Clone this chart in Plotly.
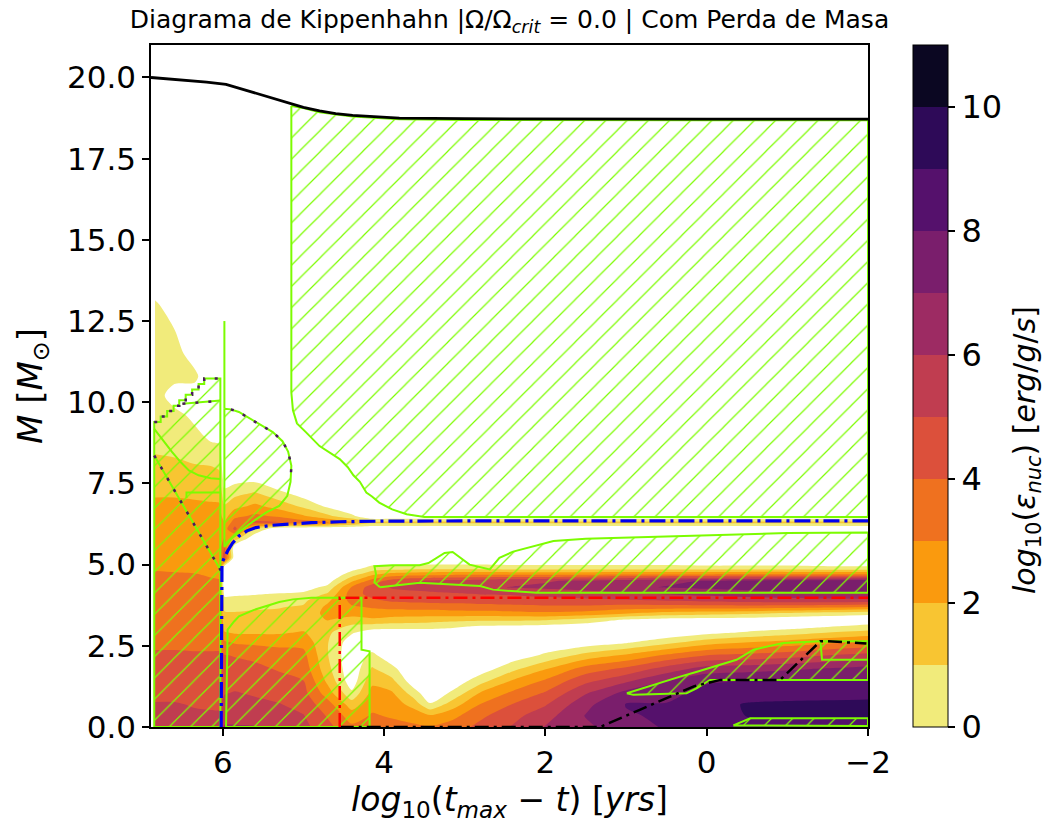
import numpy as np
import plotly.graph_objects as go

# ---------------------------------------------------------------------------
# Grid of the nuclear energy generation rate, log10(eps_nuc) [erg/g/s]
# time coordinate: log10(t_max - t) [yr]; mass coordinate: m [Msun]
# values below 0 mean eps_nuc < 1 erg/g/s (left blank)
# ---------------------------------------------------------------------------
log_t = [6.84, 6.6, 6.35, 6.15, 6.04, 5.98, 5.85, 5.6, 5.3, 5.0, 4.7, 4.4, 4.15,
         3.9, 3.65, 3.43, 3.15, 2.8, 2.4, 2.0, 1.5, 1.0, 0.5, 0.0, -0.5, -1.0, -1.5, -2.0]

mass = [0.0, 0.35, 0.7, 1.05, 1.4, 1.8, 2.2, 2.6, 2.9, 3.1, 3.3, 3.5, 3.7, 3.9, 4.1,
        4.3, 4.5, 4.7, 4.9, 5.2, 5.5, 5.8, 6.1, 6.3, 6.5, 6.8, 7.2, 7.6, 8.0, 8.5,
        9.0, 9.6, 10.2, 10.8, 11.5, 12.2, 13.0, 13.6]

# one profile (bottom -> top, on the `mass` rows) per entry of `log_t`
eps_columns = [
    # 6.84
    [5.5, 5.2, 5.05, 4.8, 4.6, 4.4, 4.15, 3.8, 3.65, 3.6, 3.5, 3.45, 3.4, 3.35, 3.3,
     3.2, 3.15, 3.05, 2.95, 2.75, 2.65, 2.55, 2.5, 2.45, 2.4, 2.2, 1.9, 1.6, 1.4, 0.9,
     0.6, 0.6, 0.6, 0.6, 0.6, 0.6, 0.3, -1],
    # 6.6
    [5.4, 5.15, 5.05, 4.8, 4.6, 4.4, 4.15, 3.8, 3.65, 3.6, 3.5, 3.45, 3.4, 3.3, 3.25,
     3.2, 3.1, 3.05, 2.9, 2.75, 2.65, 2.55, 2.5, 2.45, 2.4, 2.2, 1.9, 1.6, 1.3, 0.8,
     0.5, 0.4, -0.6, 0.4, 0.5, 0.05, -1, -1],
    # 6.35
    [5.3, 5.1, 4.95, 4.75, 4.55, 4.35, 4.1, 3.8, 3.65, 3.55, 3.5, 3.4, 3.35, 3.25, 3.2,
     3.15, 3.1, 3.02, 2.9, 2.7, 2.6, 2.55, 2.5, 2.45, 2.35, 2.15, 1.85, 1.5, 1.1, 0.6,
     0.3, -0.3, -0.6, 0.3, -0.6, -1, -1, -1],
    # 6.15
    [5.3, 5.1, 4.9, 4.7, 4.5, 4.3, 4.1, 3.8, 3.6, 3.5, 3.45, 3.35, 3.3, 3.2, 3.15,
     3.1, 3.05, 2.95, 2.85, 2.65, 2.6, 2.5, 2.45, 2.4, 2.3, 2.1, 1.8, 1.4, 1.05, 0.4,
     -0.3, -0.6, -1, -1, -1, -1, -1, -1],
    # 6.04
    [5.4, 5.1, 4.9, 4.7, 4.5, 4.3, 4.1, 3.8, 3.6, 3.5, 3.4, 3.35, 3.3, 3.2, 3.1,
     3.05, 3.02, 2.9, 2.8, 2.65, 2.6, 2.5, 2.45, 2.4, 2.3, 2.1, 1.7, 1.3, 0.9, 0.3,
     -0.4, -0.7, -1, -1, -1, -1, -1, -1],
    # 5.98
    [6.1, 5.6, 5.25, 4.95, 4.65, 4.3, 4.05, 3.2, 2.1, 1.6, 1.3, 1.1, 0.8, 0.4, -0.3,
     -0.8, -1, -1, -1, 4.5, 4.1, 3.1, 2.5, 2.1, 1.6, 1.1, 0.3, -0.5, -1, -1,
     -1, -1, -1, -1, -1, -1, -1, -1],
    # 5.85
    [6.1, 5.6, 5.3, 5.05, 4.7, 4.35, 3.95, 2.9, 1.9, 1.5, 1.25, 1.05, 0.8, 0.4, -0.2,
     -0.8, -1, -1, -1, -1, -1, 1.5, 4.3, 3.5, 2.7, 1.7, 0.7, -0.3, -1, -1,
     -1, -1, -1, -1, -1, -1, -1, -1],
    # 5.6
    [6.05, 5.6, 5.2, 4.9, 4.6, 4.2, 3.8, 2.8, 1.9, 1.5, 1.25, 1.1, 0.9, 0.5, -0.1,
     -0.7, -1, -1, -1, -1, -1, -1, 1.0, 4.2, 3.2, 2.2, 1.1, -0.2, -1, -1,
     -1, -1, -1, -1, -1, -1, -1, -1],
    # 5.3
    [5.8, 5.4, 5.05, 4.6, 4.3, 3.9, 3.5, 2.7, 1.9, 1.5, 1.3, 1.15, 0.95, 0.6, 0.05,
     -0.6, -1, -1, -1, -1, -1, -1, -1, 4.05, 2.8, 1.6, 0.3, -1, -1, -1,
     -1, -1, -1, -1, -1, -1, -1, -1],
    # 5.0
    [5.3, 5.05, 4.6, 4.3, 4.05, 3.6, 3.3, 2.7, 2.1, 1.7, 1.5, 1.35, 1.1, 0.8, 0.2,
     -0.5, -1, -1, -1, -1, -1, -1, -1, 3.5, 2.1, 0.8, -0.5, -1, -1, -1,
     -1, -1, -1, -1, -1, -1, -1, -1],
    # 4.7
    [4.3, 3.9, 3.4, 2.5, 1.8, 1.3, 1.05, 1.05, 1.2, 1.6, 2.05, 2.3, 2.2, 1.8, 1.1,
     0.3, -0.5, -1, -1, -1, -1, -1, -1, 3.1, 1.2, -0.2, -1, -1, -1, -1,
     -1, -1, -1, -1, -1, -1, -1, -1],
    # 4.4
    [3.2, 2.5, 1.5, 0.2, -0.6, -0.8, -0.8, -0.6, 0.1, 0.8, 1.6, 2.4, 2.9, 3.3, 3.5,
     3.1, 1.8, 0.5, -0.5, -1, -1, -1, -1, 2.2, 0.2, -1, -1, -1, -1, -1,
     -1, -1, -1, -1, -1, -1, -1, -1],
    # 4.15
    [3.5, 3.1, 2.7, 2.3, 1.8, 1.1, 0.3, -0.8, -0.6, 0.6, 1.8, 2.6, 3.1, 3.8, 4.4,
     4.5, 3.4, 1.8, 0.3, -1, -1, -1, -1, 1.3, -1, -1, -1, -1, -1, -1,
     -1, -1, -1, -1, -1, -1, -1, -1],
    # 3.9
    [3.3, 2.9, 2.5, 2.1, 1.3, 0.3, -0.8, -1, -0.7, 0.5, 1.6, 2.5, 3.3, 4.2, 4.6,
     5.1, 4.4, 2.4, 0.4, -1, -1, -1, -1, 1.3, -1, -1, -1, -1, -1, -1,
     -1, -1, -1, -1, -1, -1, -1, -1],
    # 3.65
    [3.2, 2.6, 1.7, 0.6, -0.5, -1, -1, -1, -0.7, 0.5, 1.5, 2.5, 3.4, 4.3, 4.7,
     5.3, 4.9, 2.6, 0.5, -1, -1, -1, -1, 1.3, -1, -1, -1, -1, -1, -1,
     -1, -1, -1, -1, -1, -1, -1, -1],
    # 3.43
    [3.1, 2.1, 0.1, -0.8, -1, -1, -1, -1, -0.6, 0.4, 1.4, 2.5, 3.4, 4.4, 4.8,
     5.4, 5.1, 2.7, 0.5, -1, -1, -1, -1, 1.3, -1, -1, -1, -1, -1, -1,
     -1, -1, -1, -1, -1, -1, -1, -1],
    # 3.15
    [3.5, 2.7, 1.5, 0.2, -0.7, -1, -1, -1, -0.6, 0.2, 1.3, 2.6, 3.5, 4.4, 4.9,
     5.6, 5.3, 2.8, 0.5, -1, -1, -1, -1, 1.3, -1, -1, -1, -1, -1, -1,
     -1, -1, -1, -1, -1, -1, -1, -1],
    # 2.8
    [4.3, 3.8, 3.05, 2.1, 0.7, -0.6, -1, -1, -0.7, -0.1, 1.2, 2.6, 3.6, 4.5, 5.05,
     5.8, 5.5, 2.8, 0.5, -1, -1, -1, -1, 1.3, -1, -1, -1, -1, -1, -1,
     -1, -1, -1, -1, -1, -1, -1, -1],
    # 2.4
    [5.1, 4.7, 4.05, 3.2, 2.2, 0.7, -0.6, -1, -0.8, -0.2, 1.2, 2.7, 3.7, 4.6, 5.1,
     6.05, 5.7, 2.8, 0.4, -1, -1, -1, -1, 1.3, -1, -1, -1, -1, -1, -1,
     -1, -1, -1, -1, -1, -1, -1, -1],
    # 2.0
    [6.05, 5.6, 4.9, 4.1, 3.2, 1.9, 0.2, -0.8, -1, -0.3, 1.1, 2.8, 3.8, 4.7, 5.3,
     6.2, 5.9, 2.8, 0.4, -1, -1, -1, -1, 1.3, -1, -1, -1, -1, -1, -1,
     -1, -1, -1, -1, -1, -1, -1, -1],
    # 1.5
    [6.8, 7.05, 6.7, 5.9, 4.8, 3.4, 1.4, -0.6, -1, -0.5, 0.6, 2.6, 3.8, 4.8, 5.5,
     6.5, 6.2, 2.8, 0.4, -1, -1, -1, -1, 1.3, -1, -1, -1, -1, -1, -1,
     -1, -1, -1, -1, -1, -1, -1, -1],
    # 1.0
    [7.6, 7.9, 8.05, 7.3, 5.9, 4.2, 2.2, -0.1, -1, -0.8, -0.1, 2.05, 3.6, 4.9, 5.8,
     6.8, 6.5, 2.9, 0.4, -1, -1, -1, -1, 1.3, -1, -1, -1, -1, -1, -1,
     -1, -1, -1, -1, -1, -1, -1, -1],
    # 0.5
    [8.1, 8.15, 8.05, 7.7, 7.05, 5.4, 3.2, 0.7, -0.8, -1, -0.4, 1.6, 3.6, 5.1, 6.1,
     7.05, 6.8, 2.9, 0.4, -1, -1, -1, -1, 1.3, -1, -1, -1, -1, -1, -1,
     -1, -1, -1, -1, -1, -1, -1, -1],
    # 0.0
    [8.2, 8.4, 8.5, 8.3, 7.9, 6.4, 4.05, 1.6, -0.3, -1, -0.5, 1.4, 3.6, 5.3, 6.3,
     7.2, 7.05, 2.9, 0.3, -1, -1, -1, -1, 1.3, -1, -1, -1, -1, -1, -1,
     -1, -1, -1, -1, -1, -1, -1, -1],
    # -0.5
    [8.4, 9.05, 9.1, 8.4, 8.05, 6.6, 4.3, 2.05, 0.2, -0.9, -0.6, 1.2, 3.6, 5.5, 6.5,
     7.4, 7.2, 3.05, 0.3, -1, -1, -1, -1, 1.3, -1, -1, -1, -1, -1, -1,
     -1, -1, -1, -1, -1, -1, -1, -1],
    # -1.0
    [8.5, 9.15, 9.2, 8.5, 8.1, 6.8, 4.6, 2.4, 0.6, -0.5, -0.7, 0.9, 3.5, 5.6, 6.7,
     7.6, 7.4, 3.05, 0.3, -1, -1, -1, -1, 1.3, -1, -1, -1, -1, -1, -1,
     -1, -1, -1, -1, -1, -1, -1, -1],
    # -1.5
    [8.55, 9.2, 9.25, 8.55, 8.15, 7.05, 5.05, 2.8, 1.05, -0.1, -0.8, 0.6, 3.3, 5.7, 6.8,
     7.7, 7.5, 3.05, 0.2, -1, -1, -1, -1, 1.3, -1, -1, -1, -1, -1, -1,
     -1, -1, -1, -1, -1, -1, -1, -1],
    # -2.0
    [8.6, 9.2, 9.3, 8.6, 8.2, 7.3, 5.4, 3.2, 1.4, 0.3, -0.8, 0.3, 3.05, 5.7, 6.9,
     7.8, 7.6, 3.05, 0.2, -1, -1, -1, -1, 1.3, -1, -1, -1, -1, -1, -1,
     -1, -1, -1, -1, -1, -1, -1, -1],
]
assert len(eps_columns) == len(log_t), len(eps_columns)
assert all(len(c) == len(mass) for c in eps_columns), [len(c) for c in eps_columns]

# discrete inferno_r levels, 0..11
band_colors = ['#f1eb7b', '#f8c532', '#fa9a0e', '#ef711f', '#dc503b', '#c03d50',
               '#9d2b63', '#7a1e6c', '#55116c', '#2e0a58', '#0b0722']
eps_ticks = [0, 2, 4, 6, 8, 10]

# ---------------------------------------------------------------------------
# Convective zones (closed outlines in log t / mass)
# ---------------------------------------------------------------------------
env_x = [5.15, 5.15, 5.13, 5.08, 4.97, 4.80, 4.55, 4.45, 4.38, 4.30, 4.22, 4.15, 4.06,
         3.90, 3.72, 3.50, -2.0, -2.0, 0.0, 2.0, 3.0, 3.81, 4.39, 4.80, 5.00, 5.15]
env_y = [19.12, 10.30, 9.75, 9.35, 9.08, 8.65, 8.25, 8.00, 7.75, 7.55, 7.22, 7.10, 6.91,
         6.70, 6.55, 6.47, 6.47, 18.68, 18.68, 18.68, 18.69, 18.71, 18.80, 18.93, 19.06, 19.12]

ms_core_x = [6.85, 6.85, 6.77, 6.77, 6.69, 6.69, 6.61, 6.61, 6.54, 6.54, 6.46, 6.46,
             6.38, 6.38, 6.30, 6.30, 6.23, 6.23, 6.03, 6.03, 6.85]
ms_core_y = [0.0, 9.39, 9.39, 9.56, 9.56, 9.73, 9.73, 9.89, 9.89, 10.06, 10.06, 10.23,
             10.23, 10.39, 10.39, 10.56, 10.56, 10.73, 10.73, 0.0, 0.0]

loop_x = [5.98, 5.90, 5.80, 5.67, 5.52, 5.38, 5.26, 5.19, 5.15, 5.16, 5.20, 5.30,
          5.46, 5.63, 5.80, 5.90, 5.96, 5.98, 5.98]
loop_y = [9.80, 9.78, 9.70, 9.50, 9.28, 9.08, 8.80, 8.48, 8.05, 7.55, 7.12, 6.81,
          6.61, 6.32, 6.00, 5.78, 5.60, 5.55, 9.80]

he_core_x = [5.96, 5.94, 5.86, 5.80, 5.62, 5.46, 5.30, 5.13, 4.90, 4.55, 4.28, 4.28,
             4.18, 4.18, 5.96]
he_core_y = [0.0, 3.00, 3.25, 3.41, 3.60, 3.72, 3.85, 3.93, 3.98, 3.98, 3.98, 2.38,
             2.33, 0.0, 0.0]

shell_x = [4.05, 4.12, 4.10, 4.12, 3.90, 3.56, 3.45, 3.35, 3.25, 3.15, 3.05, 2.94,
           2.69, 2.57, 2.40, 2.23, 1.90, 1.50, 1.07, 0.50, -0.17, -1.00, -2.00, -2.00,
           2.11, 2.65, 2.81, 3.20, 3.56, 4.05]
shell_y = [4.30, 4.45, 4.70, 4.95, 4.98, 4.98, 5.05, 5.20, 5.36, 5.39, 5.20, 5.00,
           4.85, 5.21, 5.40, 5.52, 5.73, 5.80, 5.83, 5.88, 5.93, 5.97, 5.99, 4.13,
           4.13, 4.23, 4.34, 4.40, 4.44, 4.30]

late_core_x = [0.99, 0.66, 0.33, 0.12, -0.08, -0.37, -0.58, -0.95, -1.41, -2.00, -2.00,
               -0.04, 0.12, 0.25, 0.91, 0.99]
late_core_y = [1.04, 1.30, 1.55, 1.70, 1.86, 2.07, 2.38, 2.59, 2.64, 2.64, 1.45,
               1.45, 1.20, 1.04, 0.99, 1.04]

center_x = [-0.33, -0.54, -2.0, -2.0, -0.33]
center_y = [0.05, 0.27, 0.27, 0.03, 0.05]

# open boundaries inside the convective zones
edge_lines = [
    ([6.85, 6.02], [8.36, 4.80]),
    ([6.85, 6.75, 6.63, 6.52, 6.42, 6.30, 6.15, 6.03],
     [9.18, 8.85, 8.47, 8.15, 7.90, 7.75, 7.66, 7.64]),
    ([6.45, 6.45, 6.03], [7.05, 7.22, 7.22]),
    ([6.50, 6.03], [9.95, 10.05]),
    ([5.98, 5.98], [12.5, 9.8]),
    ([-1.41, -1.43, -2.0], [2.64, 2.07, 2.07]),
]
# stepped model-by-model boundaries marked with dark dots
dotted_edges = [
    ([6.85, 6.02], [8.36, 4.80]),
    (ms_core_x[1:19], ms_core_y[1:19]),
    (loop_x[1:10], loop_y[1:10]),
    ([6.50, 6.03], [9.95, 10.05]),
]

# ---------------------------------------------------------------------------
# Mass coordinates of the star and of its cores
# ---------------------------------------------------------------------------
star_x = [6.89, 6.5, 6.2, 5.96, 5.80, 5.60, 5.40, 5.17, 5.00, 4.80, 4.60, 4.39, 4.10,
          3.81, 3.0, 2.0, 0.0, -2.0]
star_y = [20.0, 19.93, 19.86, 19.79, 19.67, 19.52, 19.37, 19.22, 19.08, 18.97, 18.89,
          18.83, 18.78, 18.75, 18.73, 18.72, 18.72, 18.72]

he_mass_x = [6.02, 6.02, 6.01, 5.98, 5.94, 5.88, 5.80, 5.70, 5.59, 5.40, 5.17, 4.90,
             4.55, 4.00, 2.00, 0.00, -2.00]
he_mass_y = [0.0, 4.80, 5.05, 5.22, 5.42, 5.66, 5.88, 6.04, 6.14, 6.21, 6.25, 6.29,
             6.32, 6.34, 6.35, 6.35, 6.35]

co_mass_x = [4.55, 4.55, -2.0]
co_mass_y = [0.0, 3.98, 3.98]

fe_mass_x = [4.55, 1.32, 0.83, 0.37, 0.16, -0.17, -0.91, -1.41, -1.50, -1.98]
fe_mass_y = [0.0, 0.0, 0.53, 1.04, 1.25, 1.45, 1.45, 2.64, 2.64, 2.57]

GREEN = '#7CFC00'
FONT = 'DejaVu Sans'

# plot-area placement in pixels (used to position the colour-bar label)
PLOT_L, PLOT_R, PLOT_T, PLOT_B = 151, 868, 45, 727

# ---------------------------------------------------------------------------
fig = go.Figure()

# filled contours of eps_nuc (plot x increasing for the contour routine)
x_grid = np.array(log_t)[::-1]
z_grid = np.array(eps_columns, dtype=float).T[:, ::-1]
contour_scale = [[0.0, '#ffffff']]
for k, c in enumerate(band_colors):
    contour_scale.append([(k + 1) / 12, c])
contour_scale.append([1.0, band_colors[-1]])

fig.add_trace(go.Contour(
    x=x_grid, y=mass, z=z_grid,
    autocontour=False,
    contours=dict(start=0, end=11, size=1, coloring='fill', showlines=False),
    colorscale=contour_scale,
    line=dict(width=0, smoothing=0.8),
    showscale=False, hoverinfo='skip',
))


def hatched(xs, ys):
    return go.Scatter(
        x=xs, y=ys, mode='lines', fill='toself',
        fillcolor='rgba(0,0,0,0)',
        fillpattern=dict(shape='/', fgcolor=GREEN, bgcolor='rgba(0,0,0,0)',
                         size=15, solidity=0.08, fillmode='replace'),
        line=dict(color=GREEN, width=2),
        hoverinfo='skip', showlegend=False,
    )


for xs, ys in [(env_x, env_y), (ms_core_x, ms_core_y), (loop_x, loop_y),
               (he_core_x, he_core_y), (shell_x, shell_y),
               (late_core_x, late_core_y), (center_x, center_y)]:
    fig.add_trace(hatched(xs, ys))

for xs, ys in edge_lines:
    fig.add_trace(go.Scatter(x=xs, y=ys, mode='lines', line=dict(color=GREEN, width=2),
                             hoverinfo='skip', showlegend=False))

for xs, ys in dotted_edges:
    fig.add_trace(go.Scatter(x=xs, y=ys, mode='lines',
                             line=dict(color='#4a1a5c', width=2.5, dash='3px,10px'),
                             hoverinfo='skip', showlegend=False))

fig.add_trace(go.Scatter(x=fe_mass_x, y=fe_mass_y, mode='lines',
                         line=dict(color='black', width=2.5, dash='14px,5px,3px,5px'),
                         hoverinfo='skip', showlegend=False))
fig.add_trace(go.Scatter(x=co_mass_x, y=co_mass_y, mode='lines',
                         line=dict(color='#ff0000', width=2.5, dash='14px,5px,3px,5px'),
                         hoverinfo='skip', showlegend=False))
fig.add_trace(go.Scatter(x=he_mass_x, y=he_mass_y, mode='lines',
                         line=dict(color='#0000ee', width=3.2, dash='16px,5px,3px,5px'),
                         hoverinfo='skip', showlegend=False))
fig.add_trace(go.Scatter(x=star_x, y=star_y, mode='lines',
                         line=dict(color='black', width=2.8),
                         hoverinfo='skip', showlegend=False))

# colour bar with the discrete eps_nuc levels
cb_scale = []
for k, c in enumerate(band_colors):
    cb_scale.append([k / 11, c])
    cb_scale.append([(k + 1) / 11, c])

fig.add_trace(go.Scatter(
    x=[10], y=[30], mode='markers', hoverinfo='skip', showlegend=False,
    marker=dict(
        color=[0], cmin=0, cmax=11, colorscale=cb_scale, showscale=True, size=1,
        colorbar=dict(
            thickness=35, len=1, lenmode='fraction', y=0.5, yanchor='middle',
            x=(913 - PLOT_L) / (PLOT_R - PLOT_L), xanchor='left', xpad=0, ypad=0,
            outlinewidth=1, outlinecolor='black',
            tickvals=eps_ticks, ticks='outside', ticklen=7, tickwidth=1.5,
            tickcolor='black', tickfont=dict(size=32, family=FONT, color='black'),
        ),
    ),
))

# colour-bar label
fig.add_annotation(
    text='<i>log</i><sub>10</sub>(<i>ε</i><sub><i>nuc</i></sub>) '
         '[<i>erg</i>/<i>g</i>/<i>s</i>]',
    xref='paper', yref='paper',
    x=(1026 - PLOT_L) / (PLOT_R - PLOT_L), y=(PLOT_B - 450) / (PLOT_B - PLOT_T),
    xanchor='center', yanchor='middle', textangle=-90, showarrow=False,
    font=dict(size=30, family=FONT, color='black'),
)

axis_common = dict(
    showline=True, linecolor='black', linewidth=1.5, mirror=True,
    ticks='outside', ticklen=7, tickwidth=1.5, tickcolor='black',
    showgrid=False, zeroline=False, automargin=False,
    tickfont=dict(size=31, family=FONT, color='black'),
)

fig.update_layout(
    width=1051, height=823,
    margin=dict(l=PLOT_L, r=1051 - PLOT_R, t=PLOT_T, b=823 - PLOT_B),
    paper_bgcolor='white', plot_bgcolor='white',
    font=dict(family=FONT, color='black'),
    showlegend=False,
    title=dict(
        text='Diagrama de Kippenhahn |Ω/Ω<sub><i>crit</i></sub> = 0.0 | Com Perda de Masa',
        x=0.5, xref='paper', xanchor='center',
        y=0.977, yref='container', yanchor='middle',
        font=dict(size=25, family=FONT, color='black'),
    ),
    xaxis=dict(
        range=[6.89, -2.0], tickvals=[6, 4, 2, 0, -2],
        title=dict(text='<i>log</i><sub>10</sub>(<i>t</i><sub><i>max</i></sub> − <i>t</i>) '
                        '[<i>yrs</i>]',
                   font=dict(size=33, family=FONT, color='black'), standoff=13),
        **axis_common,
    ),
    yaxis=dict(
        range=[0, 21.0], tick0=0, dtick=2.5, tickformat='.1f',
        title=dict(text='<i>M</i> [<i>M</i><sub>⊙</sub>]',
                   font=dict(size=34, family=FONT, color='black'), standoff=14),
        **axis_common,
    ),
)

fig.write_html('out.html')
